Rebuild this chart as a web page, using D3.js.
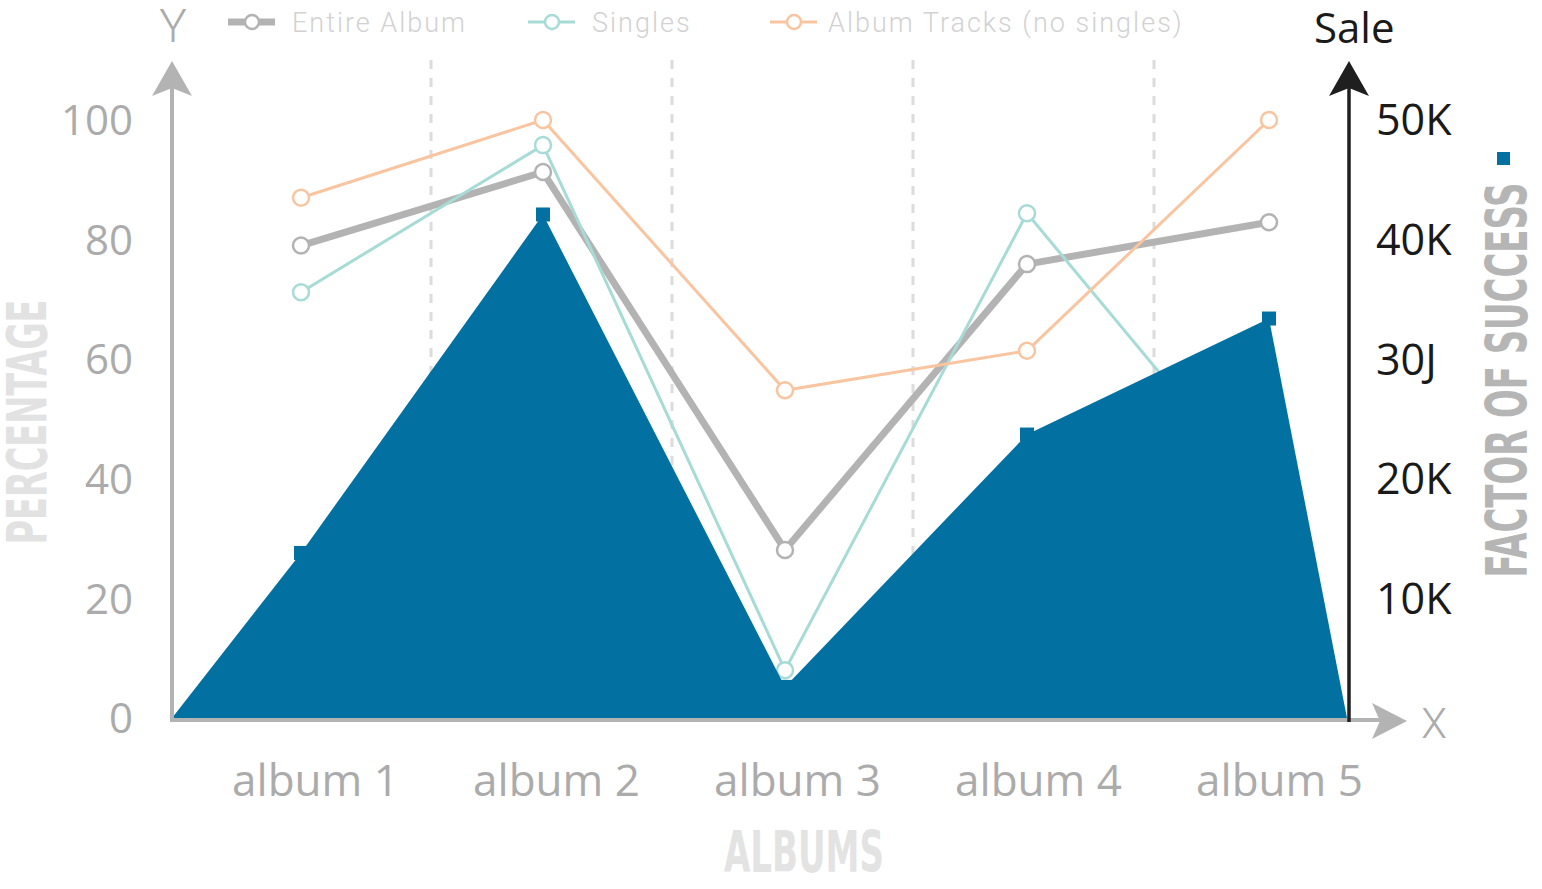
<!DOCTYPE html>
<html>
<head>
    <title>Albums chart</title>
    <meta charset="utf-8">
    <script src="https://cdn.jsdelivr.net/npm/d3@7"></script>
    <style>
        body { margin: 0; background: #fff; }
    </style>
</head>
<body>
<div class="chart-area"></div>
<script type="text/javascript">
    // data
    var albums = ['album 1', 'album 2', 'album 3', 'album 4', 'album 5'];
    var entireAlbum = [79, 91.3, 28.1, 75.9, 82.9];
    var singles = [71.2, 95.8, 8, 84.4, 35.7];
    var albumTracks = [87, 100, 54.8, 61.4, 100];
    var sales = [13.8, 42.1, 2.6, 23.7, 33.4];   // thousands

    var leftTicks = [0, 20, 40, 60, 80, 100];
    var rightTicks = [10, 20, 30, 40, 50];
    var rightTickLabels = ['10K', '20K', '30J', '40K', '50K'];
    var seriesNames = ['Entire Album', 'Singles', 'Album Tracks (no singles)'];
    var seriesColors = ['#b3b3b3', '#a7dbd6', '#f9c5a0'];

    var W = 1542, H = 889;
    var leftX = 172, rightX = 1349, baseY = 718;
    var blue = '#0271a1';
    var condensed = "'DejaVu Sans Condensed', 'DejaVu Sans', sans-serif";

    var svg = d3.select('.chart-area')
        .append('svg')
        .attr('width', W)
        .attr('height', H);

    var y = d3.scaleLinear().domain([0, 100]).range([baseY, 120]);
    var yR = d3.scaleLinear().domain([0, 50]).range([baseY, 120]);
    var xBand = d3.scaleBand().domain(albums).range([190, 1395]);
    var xPt = d3.scalePoint().domain(albums).range([301, 1269]);

    // dashed separators between albums
    svg.append('g')
        .selectAll('line')
        .data(albums.slice(1))
        .enter()
        .append('line')
        .attr('x1', function(d){ return xBand(d); })
        .attr('x2', function(d){ return xBand(d); })
        .attr('y1', 60)
        .attr('y2', baseY)
        .attr('stroke', '#dcdcdc')
        .attr('stroke-width', 3)
        .attr('stroke-dasharray', '9,9');

    // percentage lines
    var series = [entireAlbum, singles, albumTracks];
    var widths = [7, 3, 3];
    var line = d3.line()
        .x(function(d, i){ return xPt(albums[i]); })
        .y(function(d){ return y(d); });

    series.forEach(function(s, k){
        svg.append('path')
            .datum(s)
            .attr('d', line)
            .attr('fill', 'none')
            .attr('stroke', seriesColors[k])
            .attr('stroke-width', widths[k]);
    });
    series.forEach(function(s, k){
        svg.append('g')
            .selectAll('circle')
            .data(s)
            .enter()
            .append('circle')
            .attr('cx', function(d, i){ return xPt(albums[i]); })
            .attr('cy', function(d){ return y(d); })
            .attr('r', 8)
            .attr('fill', '#fff')
            .attr('stroke', seriesColors[k])
            .attr('stroke-width', 2.5);
    });

    // sales area on top
    var areaPts = [{pos: leftX, v: 0}]
        .concat(sales.map(function(v, i){ return {pos: xPt(albums[i]), v: v}; }))
        .concat([{pos: rightX - 2, v: 0}]);
    var area = d3.area()
        .x(function(d){ return d.pos; })
        .y0(baseY)
        .y1(function(d){ return yR(d.v); });
    svg.append('path')
        .datum(areaPts)
        .attr('d', area)
        .attr('fill', blue);

    svg.append('g')
        .selectAll('rect')
        .data(sales)
        .enter()
        .append('rect')
        .attr('x', function(d, i){ return xPt(albums[i]) - 7; })
        .attr('y', function(d){ return yR(d) - 7; })
        .attr('width', 14)
        .attr('height', 14)
        .attr('fill', blue);

    // axes with arrow heads
    function arrowUp(x, tip){
        return 'M' + x + ',' + tip + 'L' + (x + 20) + ',' + (tip + 35) +
            'L' + x + ',' + (tip + 27) + 'L' + (x - 20) + ',' + (tip + 35) + 'Z';
    }
    svg.append('line')
        .attr('x1', leftX - 2).attr('x2', 1395)
        .attr('y1', baseY + 2).attr('y2', baseY + 2)
        .attr('stroke', '#b3b3b3').attr('stroke-width', 4);
    svg.append('path')
        .attr('d', 'M1407,721L1372,703L1380,721L1372,739Z')
        .attr('fill', '#b3b3b3');

    svg.append('line')
        .attr('x1', leftX).attr('x2', leftX)
        .attr('y1', baseY + 4).attr('y2', 85)
        .attr('stroke', '#b3b3b3').attr('stroke-width', 4);
    svg.append('path').attr('d', arrowUp(leftX, 61)).attr('fill', '#b3b3b3');

    svg.append('line')
        .attr('x1', rightX).attr('x2', rightX)
        .attr('y1', baseY + 4).attr('y2', 85)
        .attr('stroke', '#1f1f1f').attr('stroke-width', 3.5);
    svg.append('path').attr('d', arrowUp(rightX, 61)).attr('fill', '#1f1f1f');

    // tick labels
    svg.append('g')
        .selectAll('text')
        .data(leftTicks)
        .enter()
        .append('text')
        .attr('x', 133)
        .attr('y', function(d){ return y(d); })
        .attr('dy', '0.36em')
        .attr('text-anchor', 'end')
        .attr('font-family', 'Open Sans')
        .attr('font-size', '42px')
        .attr('fill', '#ababab')
        .text(function(d){ return d; });

    svg.append('g')
        .selectAll('text')
        .data(rightTicks)
        .enter()
        .append('text')
        .attr('x', 1376)
        .attr('y', function(d){ return yR(d); })
        .attr('dy', '0.36em')
        .attr('font-family', 'Open Sans')
        .attr('font-size', '43px')
        .attr('fill', '#1a1a1a')
        .text(function(d, i){ return rightTickLabels[i]; });

    svg.append('g')
        .selectAll('text')
        .data(albums)
        .enter()
        .append('text')
        .attr('x', function(d){ return xBand(d) + xBand.bandwidth() / 2 + 5; })
        .attr('y', 796)
        .attr('text-anchor', 'middle')
        .attr('font-family', 'Open Sans')
        .attr('font-size', '44px')
        .attr('fill', '#ababab')
        .text(function(d){ return d; });

    // axis letters and titles
    svg.append('text')
        .attr('x', 173).attr('y', 42)
        .attr('text-anchor', 'middle')
        .attr('font-family', 'Roboto').attr('font-weight', 300)
        .attr('font-size', '46px').attr('fill', '#ababab')
        .text('Y');
    svg.append('text')
        .attr('x', 1434).attr('y', 738)
        .attr('text-anchor', 'middle')
        .attr('font-family', 'Roboto').attr('font-weight', 300)
        .attr('font-size', '42px').attr('fill', '#ababab')
        .text('X');
    svg.append('text')
        .attr('x', 1314).attr('y', 43)
        .attr('font-family', 'Open Sans')
        .attr('font-size', '42px').attr('fill', '#1a1a1a')
        .text('Sale');

    svg.append('text')
        .attr('transform', 'translate(46,422) rotate(-90)')
        .attr('text-anchor', 'middle')
        .attr('font-family', condensed).attr('font-weight', 'bold')
        .attr('font-size', '56px').attr('fill', '#e2e2e2')
        .attr('textLength', 245).attr('lengthAdjust', 'spacingAndGlyphs')
        .text('PERCENTAGE');

    svg.append('text')
        .attr('transform', 'translate(1527,380) rotate(-90)')
        .attr('text-anchor', 'middle')
        .attr('font-family', condensed).attr('font-weight', 'bold')
        .attr('font-size', '57px').attr('fill', '#b5b5b5')
        .attr('textLength', 395).attr('lengthAdjust', 'spacingAndGlyphs')
        .text('FACTOR OF SUCCESS');
    svg.append('rect')
        .attr('x', 1497).attr('y', 152)
        .attr('width', 13).attr('height', 13)
        .attr('fill', blue);

    svg.append('text')
        .attr('x', 804).attr('y', 872)
        .attr('text-anchor', 'middle')
        .attr('font-family', condensed).attr('font-weight', 'bold')
        .attr('font-size', '57px').attr('fill', '#e3e3e3')
        .attr('textLength', 160).attr('lengthAdjust', 'spacingAndGlyphs')
        .text('ALBUMS');

    // legend
    var legendX = [228, 528, 770];
    var legend = svg.append('g')
        .selectAll('g')
        .data(seriesNames)
        .enter()
        .append('g')
        .attr('transform', function(d, i){ return 'translate(' + legendX[i] + ',22)'; });
    legend.append('line')
        .attr('x1', 0).attr('x2', 47)
        .attr('stroke', function(d, i){ return seriesColors[i]; })
        .attr('stroke-width', function(d, i){ return widths[i]; });
    legend.append('circle')
        .attr('cx', 24).attr('r', 7)
        .attr('fill', '#fff')
        .attr('stroke', function(d, i){ return seriesColors[i]; })
        .attr('stroke-width', 2.5);
    legend.append('text')
        .attr('x', function(d, i){ return i == 2 ? 58 : 64; })
        .attr('y', 10)
        .attr('font-family', 'Roboto').attr('font-weight', 300)
        .attr('font-size', '27px')
        .attr('letter-spacing', '2px')
        .attr('fill', '#d2d2d2')
        .text(function(d){ return d; });
</script>
</body>
</html>
